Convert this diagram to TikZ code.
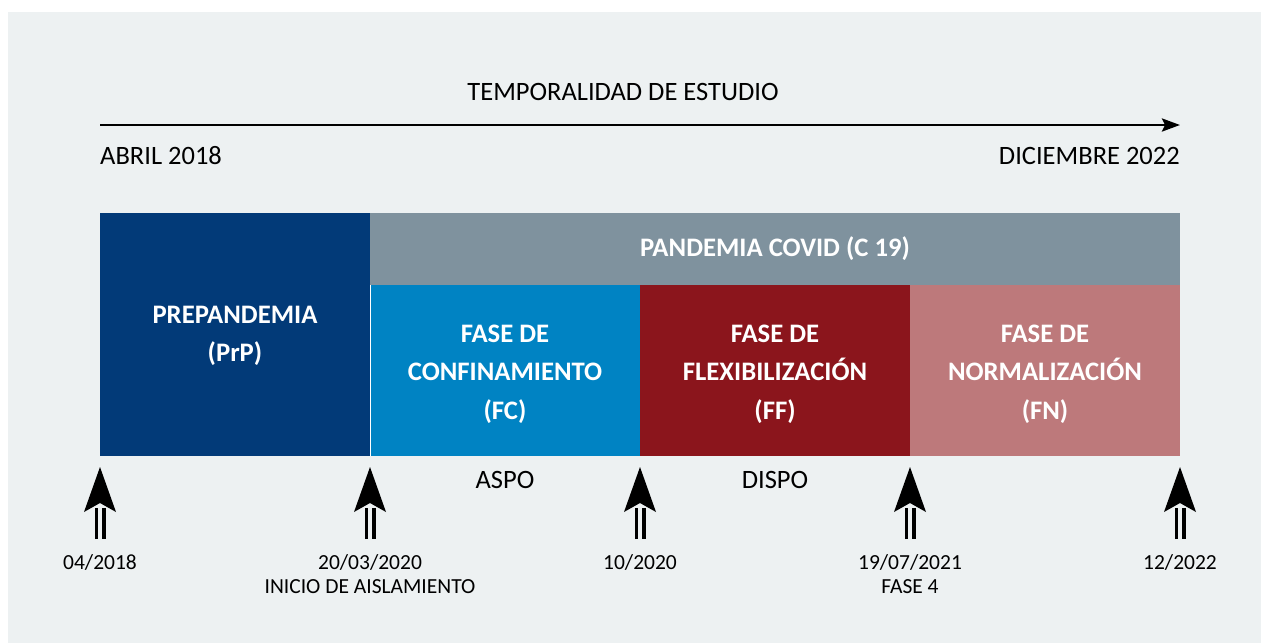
\documentclass[tikz,border=0pt]{standalone}
\usepackage{fontspec}
\setmainfont{Carlito}
\usetikzlibrary{arrows.meta}
\definecolor{bgcol}{HTML}{EDF1F2}
\definecolor{prpcol}{HTML}{023A78}
\definecolor{pancol}{HTML}{7F929E}
\definecolor{fccol}{HTML}{0083C3}
\definecolor{ffcol}{HTML}{8B151C}
\definecolor{fncol}{HTML}{BD797B}
\tikzset{
  phase/.style={inner sep=0pt, outer sep=0pt, text=white, align=center,
    font=\fontsize{26.7}{38.5}\selectfont\bfseries},
  plain/.style={inner sep=0pt, font=\fontsize{26.5}{30}\selectfont},
  datelbl/.style={inner sep=0pt, anchor=north, align=center, font=\fontsize{21.5}{24}\selectfont},
  shaft/.style={line width=3.5pt, double=bgcol, double distance=4pt},
  headtip/.style={fill=black},
}
\begin{document}
\begin{tikzpicture}[x=1pt,y=-1pt]
\useasboundingbox (0,0) rectangle (1261,643);
\fill[white] (0,0) rectangle (1261,643);
\fill[bgcol] (8,12) rectangle (1261,643);

% title and timeline
\node[plain] (title) at (623,92) {TEMPORALIDAD DE ESTUDIO};
\coordinate (tlstart) at (100,125);
\coordinate (tlend) at (1180,125);
\draw[line width=2.8pt, -{Stealth[length=18pt,width=13pt,inset=3pt]}] (tlstart) -- (tlend);
\node[plain, anchor=west] (start) at (100,156) {ABRIL 2018};
\node[plain, anchor=east] (end) at (1180,156) {DICIEMBRE 2022};

% boxes
\fill[prpcol] (100,213) rectangle (370,456);
\node[phase] (prp) at (235,336) {PREPANDEMIA\\(PrP)};
\fill[pancol] (370,213) rectangle (1180,285);
\node[phase] (pan) at (775,249) {PANDEMIA COVID (C 19)};
\fill[fccol] (370,285) rectangle (640,456);
\node[phase] (fc) at (505,374) {FASE DE\\CONFINAMIENTO\\(FC)};
\fill[ffcol] (640,285) rectangle (910,456);
\node[phase] (ff) at (775,374) {FASE DE\\FLEXIBILIZACIÓN\\(FF)};
\fill[fncol] (910,285) rectangle (1180,456);
\node[phase] (fn) at (1045,374) {FASE DE\\NORMALIZACIÓN\\(FN)};
\draw[white, line width=1.5pt] (370.5,285) -- (370.5,456);

\node[plain] (aspo) at (505,480) {ASPO};
\node[plain] (dispo) at (775,480) {DISPO};

% event arrows
\foreach \i/\x in {a/100,b/370,c/640,d/910,e/1180}{
  \coordinate (\i tip) at (\x,467);
  \coordinate (\i base) at (\x,539);
  \draw[shaft] (\i base) -- ([yshift=-8pt]\i base |- 0,500);
  \fill[headtip] (\i tip) -- ([xshift=-16pt,yshift=-45pt]\i tip) -- ([yshift=-36pt]\i tip) -- ([xshift=16pt,yshift=-45pt]\i tip) -- cycle;
}
\node[datelbl] (la) at (100,554) {04/2018};
\node[datelbl] (lb) at (370,554) {20/03/2020\\INICIO DE AISLAMIENTO};
\node[datelbl] (lc) at (640,554) {10/2020};
\node[datelbl] (ld) at (910,554) {19/07/2021\\FASE 4};
\node[datelbl] (le) at (1180,554) {12/2022};
\end{tikzpicture}
\end{document}
